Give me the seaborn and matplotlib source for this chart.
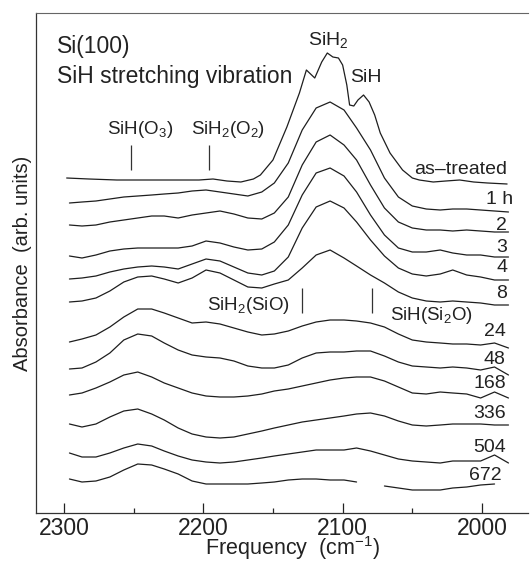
import numpy as np
import pandas as pd
import matplotlib
matplotlib.use('Agg')
import matplotlib.pyplot as plt
from matplotlib.ticker import MultipleLocator
import seaborn as sns

# estilo
sns.set_style('ticks')
plt.rcParams['font.family'] = ['Liberation Sans', 'DejaVu Sans']
plt.rcParams['mathtext.default'] = 'regular'

# Frecuencias (cm-1) a las que se leyeron los espectros
freq = [2296, 2287, 2277, 2267, 2257, 2247, 2237, 2228, 2218, 2208,
        2198, 2188, 2178, 2168, 2158, 2149, 2139, 2129, 2119, 2109,
        2099, 2090, 2080, 2070, 2060, 2050, 2040, 2030, 2021, 2011,
        2001, 1991, 1981]

# espectro inicial, con rejilla propia (picos finos)
freq_as_treated = [2298, 2282, 2262, 2242, 2223, 2203, 2193, 2183, 2173, 2164,
                   2159, 2150, 2140, 2131, 2126, 2120, 2115, 2111, 2107, 2103,
                   2100, 2097, 2095, 2092, 2089, 2085, 2081, 2077, 2073, 2066,
                   2057, 2050, 2045, 2035, 2026, 2016, 2006, 1996, 1982]
abs_as_treated = [335, 334, 333, 333, 333, 333, 334, 332, 331, 334,
                  338, 353, 386, 420, 443, 435, 451, 460, 456, 455,
                  448, 428, 408, 407, 413, 418, 411, 398, 380, 360,
                  343, 335, 333, 331, 332, 333, 331, 330, 329]

# espectros apilados (arb. units, ya desplazados)
abs_1h = [310, 311, 312, 314, 316, 317, 318, 319, 320, 322, 323, 321, 319, 317, 321, 330, 350,
          383, 405, 411, 403, 385, 363, 335, 316, 307, 304, 303, 304, 304, 303, 302, 301]
abs_2h = [288, 287, 288, 291, 293, 295, 297, 297, 295, 298, 300, 302, 299, 295, 294, 300, 316,
          348, 371, 378, 368, 353, 328, 305, 291, 285, 283, 283, 282, 283, 282, 281, 281]
abs_3h = [257, 255, 258, 262, 264, 265, 265, 265, 265, 267, 272, 270, 266, 263, 264, 271, 288,
          318, 340, 345, 337, 321, 298, 278, 265, 261, 261, 263, 260, 258, 258, 256, 256]
abs_4h = [234, 235, 237, 241, 244, 246, 247, 246, 244, 249, 254, 252, 246, 240, 238, 242, 256,
          285, 306, 312, 305, 291, 273, 257, 245, 239, 237, 239, 243, 238, 236, 233, 233]
abs_8h = [211, 212, 215, 222, 231, 236, 237, 234, 230, 235, 243, 240, 233, 226, 225, 229, 233,
          245, 258, 263, 255, 247, 238, 230, 221, 215, 212, 211, 212, 211, 210, 208, 208]
abs_24h = [171, 174, 178, 186, 196, 204, 204, 200, 195, 190, 191, 189, 185, 181, 178, 179, 182,
           187, 191, 193, 193, 192, 190, 186, 179, 173, 171, 170, 169, 169, 168, 170, 165]
abs_48h = [144, 145, 151, 160, 173, 179, 177, 170, 163, 158, 156, 155, 152, 147, 145, 145, 148,
           155, 160, 161, 161, 162, 162, 157, 151, 147, 146, 145, 146, 145, 143, 146, 138]
abs_168h = [118, 120, 125, 131, 138, 141, 136, 130, 125, 120, 117, 116, 116, 117, 119, 122, 124,
            127, 130, 133, 135, 136, 136, 132, 126, 120, 119, 121, 120, 119, 115, 121, 115]
abs_336h = [89, 86, 89, 96, 102, 104, 99, 93, 85, 79, 76, 75, 76, 79, 82, 85, 88,
            91, 93, 95, 97, 99, 100, 97, 92, 88, 87, 88, 89, 89, 89, 88, 88]
abs_504h = [60, 56, 56, 60, 65, 69, 67, 62, 57, 53, 51, 50, 51, 53, 55, 57, 59,
            61, 63, 63, 63, 65, 62, 58, 54, 52, 51, 50, 52, 52, 52, 58, 50]
abs_672h = [34, 31, 32, 36, 43, 49, 48, 44, 39, 32, 29, 29, 29, 29, 30, 31, 33,
            34, 34, 33, 33, 31, np.nan, 27, 25, 23, 23, 23, 25, 26, 28, 29, np.nan]

curve_labels = ['as\u2013treated', '1 h', '2', '3', '4', '8', '24', '48', '168', '336', '504', '672']
label_y = [344, 313, 288, 265, 245, 220, 181, 154, 129, 100, 66, 38]
label_x = [1982, 1978, 1982, 1982, 1982, 1982, 1983, 1983, 1983, 1983, 1983, 1986]

# marcadores de modos
marker_text = ['SiH(O$_3$)', 'SiH$_2$(O$_2$)', 'SiH$_2$(SiO)', 'SiH(Si$_2$O)']
marker_freq = [2252, 2196, 2129, 2079]

traces = [(curve_labels[0], freq_as_treated, abs_as_treated)]
for lab, vals in zip(curve_labels[1:], [abs_1h, abs_2h, abs_3h, abs_4h, abs_8h, abs_24h,
                                       abs_48h, abs_168h, abs_336h, abs_504h, abs_672h]):
    traces.append((lab, freq, vals))

# tabla larga; los huecos (NaN) cortan la linea en segmentos
rows = []
seg = 0
for lab, fr, vals in traces:
    for f, v in zip(fr, vals):
        if np.isnan(v):
            seg += 1
            continue
        rows.append((seg, lab, f, v))
    seg += 1
df = pd.DataFrame(rows, columns=['segmento', 'muestra', 'freq', 'absorbancia'])

fig = plt.figure(figsize=(5.31, 5.61), dpi=100)
ax = fig.add_axes([36 / 531, 48 / 561, 492 / 531, 500 / 561])

sns.lineplot(data=df, x='freq', y='absorbancia', units='segmento', estimator=None,
             color='#1e1e1e', linewidth=0.9, legend=False, ax=ax)

ax.set_xlim(2320, 1967)
ax.set_ylim(0, 500)
ax.set_xticks([2300, 2200, 2100, 2000])
ax.xaxis.set_minor_locator(MultipleLocator(50))
ax.set_yticks([])
ax.tick_params(axis='x', which='major', direction='in', length=7, width=0.9,
               labelsize=16.5, pad=3, colors='#222222')
ax.tick_params(axis='x', which='minor', direction='in', length=3.5, width=0.9)
ax.set_xlabel('Frequency  (cm$^{-1}$)', fontsize=15.5, color='#222222')
ax.xaxis.set_label_coords(0.522, -0.085)
ax.xaxis.label.set_verticalalignment('baseline')
ax.set_ylabel('Absorbance  (arb. units)', fontsize=14.5, labelpad=3, color='#222222')
ax.spines['right'].set_visible(False)
for s in ['left', 'bottom']:
    ax.spines[s].set_color('#333333')
    ax.spines[s].set_linewidth(0.9)
ax.spines['top'].set_color('#666666')
ax.spines['top'].set_linewidth(0.8)

# textos
ax.text(2305, 466, 'Si(100)', fontsize=16.5, ha='left', va='center', color='#222222')
ax.text(2305, 437, 'SiH stretching vibration', fontsize=16.5, ha='left', va='center', color='#222222')
ax.text(2110, 473, 'SiH$_2$', fontsize=14, ha='center', va='center', color='#222222')
ax.text(2083, 435, 'SiH', fontsize=14, ha='center', va='center', color='#222222')

# marcadores arriba
ax.vlines(marker_freq[:2], 343, 368, color='#333333', linewidth=0.9)
ax.text(2245, 384, marker_text[0], fontsize=13.5, ha='center', va='center', color='#222222')
ax.text(2182, 384, marker_text[1], fontsize=13.5, ha='center', va='center', color='#222222')
# marcadores abajo
ax.vlines(marker_freq[2:], 200, 225, color='#333333', linewidth=0.9)
ax.text(2138, 207, marker_text[2], fontsize=13.5, ha='right', va='center', color='#222222')
ax.text(2066, 198, marker_text[3], fontsize=13.5, ha='left', va='center', color='#222222')

for lab, lx, ly in zip(curve_labels, label_x, label_y):
    ax.text(lx, ly, lab, fontsize=14, ha='right', va='center', color='#222222')

fig.savefig('out.png', dpi=100)
